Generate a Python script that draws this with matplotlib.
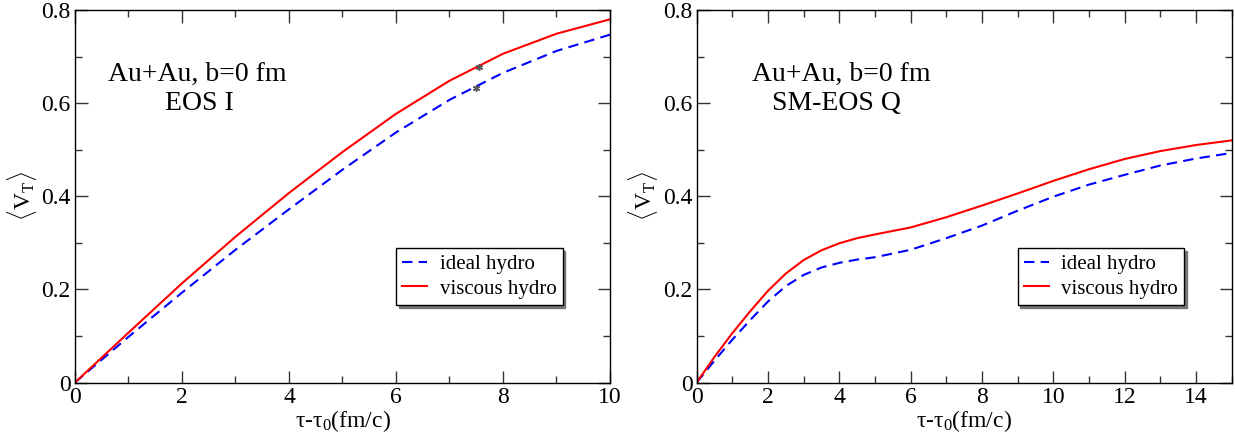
import matplotlib
matplotlib.use('Agg')
import matplotlib.pyplot as plt
import numpy as np

plt.rcParams['font.family'] = ['Liberation Serif', 'DejaVu Serif']
plt.rcParams['mathtext.fontset'] = 'custom'
plt.rcParams['mathtext.rm'] = 'Liberation Serif'
plt.rcParams['mathtext.it'] = 'Liberation Serif:italic'

# EOS I, Au+Au b=0
t_eos1 = [0, 1, 2, 3, 4, 5, 6, 7, 8, 9, 10]
ideal_eos1 = [0, 0.098, 0.193, 0.285, 0.372, 0.457, 0.537, 0.607, 0.665, 0.712, 0.747]
visc_eos1 = [0, 0.107, 0.213, 0.313, 0.407, 0.495, 0.577, 0.648, 0.706, 0.749, 0.780]
star_t = [7.5, 7.55]
star_v = [0.632, 0.678]

# SM-EOS Q, Au+Au b=0
t_eosq = [0, 0.5, 1, 1.5, 2, 2.5, 3, 3.5, 4, 4.5, 5, 6, 7, 8, 9, 10, 11, 12, 13, 14, 15]
ideal_eosq = [0, 0.047, 0.092, 0.134, 0.174, 0.207, 0.231, 0.247, 0.257, 0.264, 0.269,
              0.285, 0.310, 0.337, 0.369, 0.399, 0.425, 0.446, 0.466, 0.481, 0.493]
visc_eosq = [0, 0.055, 0.106, 0.153, 0.197, 0.234, 0.263, 0.284, 0.299, 0.310, 0.318,
             0.333, 0.355, 0.380, 0.406, 0.433, 0.458, 0.480, 0.497, 0.510, 0.520]

fig = plt.figure(figsize=(12.35, 4.38), dpi=100)
ax1 = fig.add_axes([0.0607, 0.1267, 0.4332, 0.8505])
ax2 = fig.add_axes([0.5641, 0.1267, 0.4332, 0.8505])

tick_fs = 17
label_fs = 17
legend_fs = 15
note_fs = 20

def setup(ax, xmax, xmajor):
    ax.set_xlim(0, xmax)
    ax.set_ylim(0, 0.8)
    ax.set_xticks(np.arange(0, xmax + 0.01, xmajor))
    ax.set_xticks(np.arange(0, xmax + 0.01, 1), minor=True)
    ax.set_yticks([0, 0.2, 0.4, 0.6, 0.8])
    ax.set_yticks(np.arange(0, 0.81, 0.1), minor=True)
    ax.set_yticklabels(['0', '0.2', '0.4', '0.6', '0.8'])
    ax.tick_params(which='both', direction='in', top=True, right=True,
                   labelsize=tick_fs, width=1, color='#333333', pad=3)
    ax.tick_params(which='major', length=9)
    ax.tick_params(which='minor', length=5)
    for s in ax.spines.values():
        s.set_linewidth(1)
    ax.set_xlabel('τ-τ$_0$(fm/c)', fontsize=label_fs, labelpad=0)
    ax.set_ylabel(r'$\langle\mathrm{V_T}\rangle$', fontsize=label_fs, labelpad=2)

for ax, t, ideal, visc, xmax, xmajor in [(ax1, t_eos1, ideal_eos1, visc_eos1, 10, 2),
                                         (ax2, t_eosq, ideal_eosq, visc_eosq, 15, 2)]:
    ax.plot(t, ideal, color='blue', lw=1.5, dashes=(5, 3), label='ideal hydro')
    ax.plot(t, visc, color='red', lw=1.5, label='viscous hydro')
    setup(ax, xmax, xmajor)
    ax.legend(loc='lower left', bbox_to_anchor=(0.6, 0.208), fontsize=legend_fs,
              fancybox=False, edgecolor='black', framealpha=1,
              shadow={'color': '#777777', 'alpha': 1},
              handlelength=1.2, handletextpad=0.6, borderpad=0.3,
              labelspacing=0.25, borderaxespad=0)

ax1.plot(star_t, star_v, ls='none', marker=(6, 2, 0), ms=5, mew=1, color='#555555')

ax1.text(0.062, 0.826, 'Au+Au, b=0 fm', transform=ax1.transAxes, fontsize=note_fs,
         va='center', ha='left')
ax1.text(0.168, 0.75, 'EOS I', transform=ax1.transAxes, fontsize=note_fs,
         va='center', ha='left')
ax2.text(0.103, 0.826, 'Au+Au, b=0 fm', transform=ax2.transAxes, fontsize=note_fs,
         va='center', ha='left')
ax2.text(0.141, 0.75, 'SM-EOS Q', transform=ax2.transAxes, fontsize=note_fs,
         va='center', ha='left')

fig.savefig('out.png', dpi=100)
